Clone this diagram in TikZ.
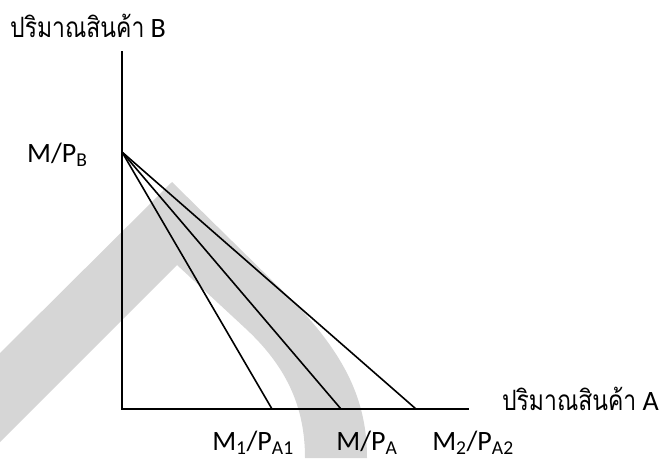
\documentclass[tikz,border=0pt]{standalone}
\usepackage{fontspec}
\setmainfont{Carlito}
\newfontfamily\thaifont[Script=Thai,FakeStretch=0.82]{Loma}
\usepackage{tikz}
\usetikzlibrary{positioning}
\definecolor{wmark}{HTML}{D6D6D6}

\begin{document}
\begin{tikzpicture}[
    x=1pt,y=-1pt,
    axis/.style={line width=2.2pt,line cap=rect},
    budget/.style={line width=1.6pt},
    lbl/.style={font=\fontsize{28}{32}\selectfont,inner sep=0pt},
    band/.style={fill=wmark,draw=none}
]
\useasboundingbox (0,0) rectangle (661,458);

% Watermark band behind the graph
\fill[band] (0,353) -- (172,182) -- (292,300)
    .. controls (345,355) and (367,400) .. (367,458)
    -- (305,458) .. controls (305,405) and (285,365) .. (245,328)
    -- (177,265) -- (0,442) -- cycle;

% Axes
\coordinate (O) at (122,409);
\coordinate (ytop) at (122,52);
\coordinate (xend) at (468,409);
\draw[axis] (ytop) -- (O) -- (xend);

% Intercepts
\coordinate (mb) at (122,152);
\coordinate (a1) at (272,409);
\coordinate (a0) at (341,409);
\coordinate (a2) at (416,409);

% Budget lines
\draw[budget] (mb) -- (a1);
\draw[budget] (mb) -- (a0);
\draw[budget] (mb) -- (a2);

% Axis titles
\node[lbl,anchor=base west] (qb) at (10,37) {{\thaifont ปริมาณสินค้า} B};
\node[lbl,anchor=base east] (qa) at (659,410) {{\thaifont ปริมาณสินค้า} A};

% Intercept labels
\node[lbl,anchor=base west] (lmb) at (27,162) {M/P\textsubscript{B}};
\node[lbl,anchor=base] (la1) at (253,450) {M\textsubscript{1}/P\textsubscript{A1}};
\node[lbl,anchor=base] (la0) at (367,450) {M/P\textsubscript{A}};
\node[lbl,anchor=base] (la2) at (473,450) {M\textsubscript{2}/P\textsubscript{A2}};

\end{tikzpicture}
\end{document}
